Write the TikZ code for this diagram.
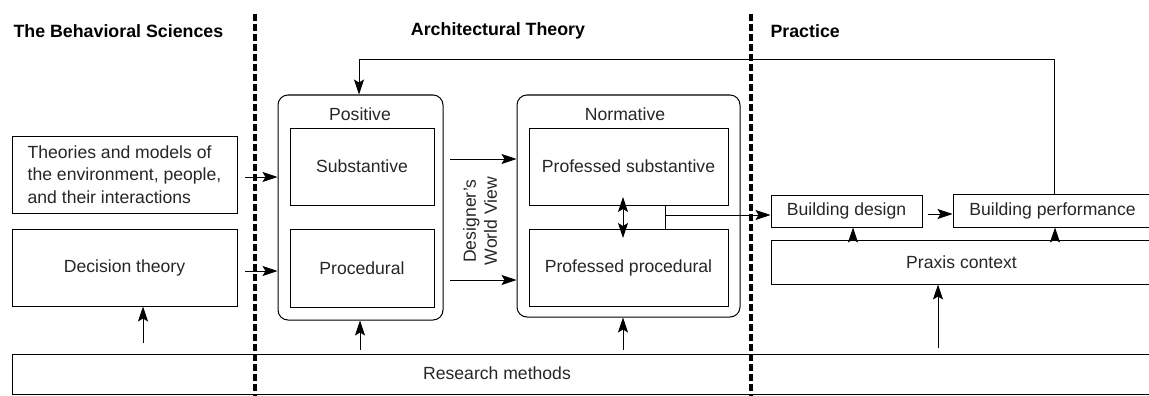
\documentclass[tikz,border=0pt]{standalone}
\usepackage{fontspec}
\setmainfont{Liberation Sans}
\usetikzlibrary{arrows.meta}
\begin{document}
\begin{tikzpicture}[x=1pt,y=-1pt,
  every node/.style={font=\fontsize{17.6}{22.5}\selectfont, text=black!85},
  box/.style={draw, line width=1pt, inner sep=0pt},
  rbox/.style={draw, line width=1pt, rounded corners=10pt, inner sep=0pt},
  hdr/.style={font=\fontsize{17.8}{22}\selectfont\bfseries, text=black},
  arr/.style={line width=1pt, -{Stealth[length=15pt,width=10pt,inset=3pt]}},
  darr/.style={line width=1pt, {Stealth[length=15pt,width=10pt,inset=3pt]}-{Stealth[length=15pt,width=10pt,inset=3pt]}},
  conn/.style={line width=1pt},
  divider/.style={line width=4pt, dash pattern=on 7pt off 3pt}
]
\useasboundingbox (0,0) rectangle (1149,396);
\clip (0,0) rectangle (1149,396);

% headers
\node[hdr, anchor=west] (h1) at (10,31) {The Behavioral Sciences};
\node[hdr] (h2) at (498,31) {Architectural Theory};
\node[hdr, anchor=west] (h3) at (767,31) {Practice};

% left column
\node[box, minimum width=225pt, minimum height=77pt, align=left] (theo) at (124.5,174.5)
  {Theories and models of\\the environment, people,\\and their interactions};
\node[box, minimum width=225pt, minimum height=77pt] (dec) at (124.5,267.5) {Decision theory};

% positive
\node[rbox, minimum width=165pt, minimum height=225pt] (pos) at (360.5,207.5) {};
\node (posl) at (360,114) {Positive};
\node[box, minimum width=144pt, minimum height=77pt] (sub) at (362,166.5) {Substantive};
\node[box, minimum width=144pt, minimum height=78pt] (proc) at (362,268) {Procedural};

% designer's world view
\node[rotate=90, align=center, font=\fontsize{17.6}{21}\selectfont] (dwv) at (480,221) {Designer's\\World View};

% normative
\node[rbox, minimum width=223pt, minimum height=222pt] (norm) at (628.5,206) {};
\node (norml) at (625,114) {Normative};
\node[box, minimum width=199pt, minimum height=77pt] (psub) at (628.5,166.5) {Professed substantive};
\node[box, minimum width=199pt, minimum height=77pt] (pproc) at (628.5,267.5) {Professed procedural};

% practice
\node[box, minimum width=151pt, minimum height=32pt] (bd) at (846.5,211) {Building design};
\node[box, minimum width=199pt, minimum height=33pt] (bp) at (1052.5,210.5) {Building performance};
\node[box, minimum width=381pt, minimum height=44pt] (prx) at (961.5,262) {Praxis context};

% research methods
\node[box, minimum width=1142pt, minimum height=40pt] (res) at (583,374) {};
\node (resl) at (497,373) {Research methods};

% coordinates for free ends
\coordinate (a1) at (245,177);
\coordinate (a2) at (245,271);
\coordinate (a3) at (450,159);
\coordinate (a4) at (450,280);
\coordinate (r1) at (143,343);
\coordinate (r2) at (360,350);
\coordinate (r3) at (623,350);
\coordinate (r4) at (938,348);
\coordinate (br) at (665,215);
\coordinate (fb) at (359,60);
\coordinate (dtop) at (623,197);
\coordinate (dbot) at (623,238);

% arrows
\draw[arr] (a1) -- (a1 -| pos.west);
\draw[arr] (a2) -- (a2 -| pos.west);
\draw[arr] (a3) -- (a3 -| norm.west);
\draw[arr] (a4) -- (a4 -| norm.west);
\draw[darr] (dtop) -- (dbot);
\draw[conn] (psub.south -| br) -- (pproc.north -| br);
\draw[arr] (br) -- (br -| bd.west);
\draw[arr] ([xshift=5pt]bd.east |- 0,214) -- (bp.west |- 0,214);
\draw[arr] (prx.north -| 853,0) -- (bd.south -| 853,0);
\draw[arr] (prx.north -| 1055,0) -- (bp.south -| 1055,0);
\draw[arr] (r4) -- (r4 |- prx.south);
\draw[arr] (r1) -- (r1 |- dec.south);
\draw[arr] (r2) -- (r2 |- pos.south);
\draw[arr] (r3) -- (r3 |- norm.south);
\draw[arr] (bp.north -| 1054,0) |- (fb) -- (fb |- pos.north);

% dividers
\draw[divider] (255,14) -- (255,400);
\draw[divider] (751,14) -- (751,400);
\end{tikzpicture}
\end{document}
